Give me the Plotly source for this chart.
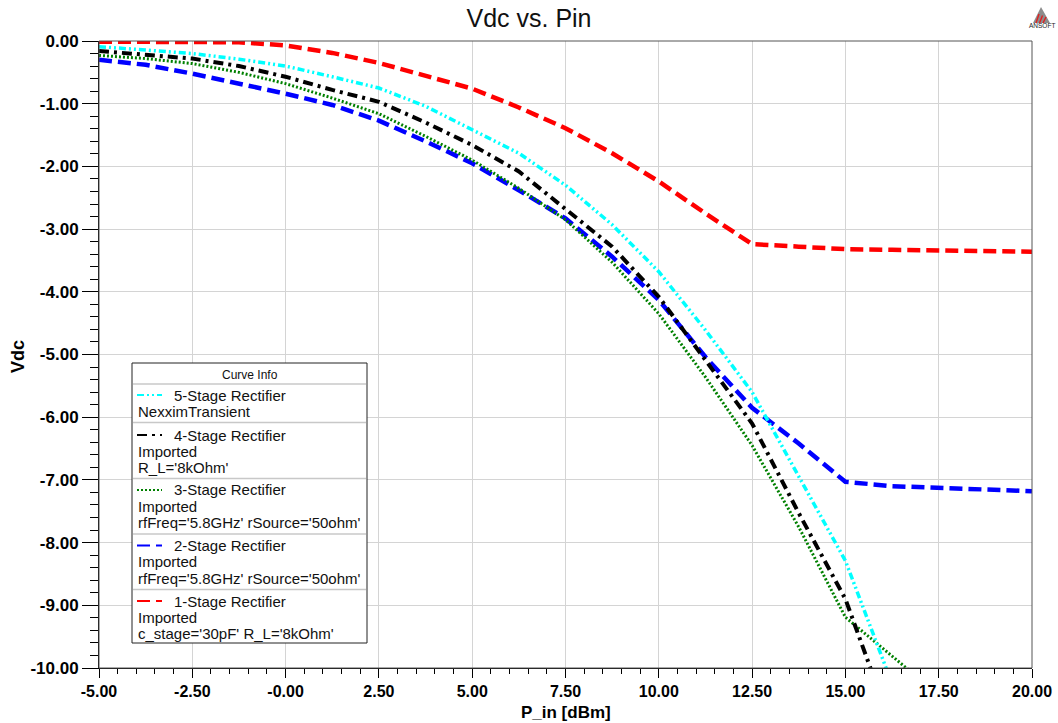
import plotly.graph_objects as go

# Input power sweep (dBm)
p_in = [-5.0, -3.75, -2.5, -1.25, 0.0, 1.25, 2.5, 3.75, 5.0, 6.25, 7.5, 8.75,
        10.0, 11.25, 12.5, 13.75, 15.0, 16.25, 17.5, 18.75, 20.0]

# Output DC voltage per rectifier (V)
vdc_5stage = [-0.09, -0.14, -0.20, -0.29, -0.40, -0.57, -0.75, -1.04, -1.42, -1.79, -2.30,
              -2.93, -3.68, -4.61, -5.60, -6.95, -8.29, -10.25]
vdc_4stage = [-0.16, -0.22, -0.28, -0.40, -0.57, -0.78, -0.97, -1.30, -1.66, -2.08, -2.69,
              -3.28, -4.08, -5.08, -6.10, -7.53, -8.90, -10.95]
vdc_3stage = [-0.23, -0.28, -0.36, -0.50, -0.68, -0.91, -1.16, -1.52, -1.90, -2.35, -2.85,
              -3.53, -4.35, -5.36, -6.45, -7.75, -9.19, -9.82, -10.43]
vdc_2stage = [-0.30, -0.38, -0.52, -0.68, -0.84, -1.02, -1.27, -1.60, -1.95, -2.38, -2.83,
              -3.44, -4.13, -5.04, -5.85, -6.42, -7.03, -7.10, -7.13, -7.16, -7.18]
vdc_1stage = [-0.01, -0.01, -0.01, -0.02, -0.07, -0.19, -0.35, -0.56, -0.76, -1.06, -1.39,
              -1.79, -2.24, -2.75, -3.24, -3.28, -3.32, -3.33, -3.34, -3.35, -3.36]

x_tick_vals = [-5, -2.5, 0, 2.5, 5, 7.5, 10, 12.5, 15, 17.5, 20]
x_tick_text = ["-5.00", "-2.50", "-0.00", "2.50", "5.00", "7.50", "10.00",
               "12.50", "15.00", "17.50", "20.00"]
y_tick_vals = [0, -1, -2, -3, -4, -5, -6, -7, -8, -9, -10]
y_tick_text = ["0.00", "-1.00", "-2.00", "-3.00", "-4.00", "-5.00", "-6.00",
               "-7.00", "-8.00", "-9.00", "-10.00"]

series = [
    ("5-Stage Rectifier", ["NexximTransient"], vdc_5stage,
     "#00FFFF", 3.5, "7px,3px,2px,3px,2px,3px"),
    ("4-Stage Rectifier", ["Imported", "R_L='8kOhm'"], vdc_4stage,
     "#000000", 4, "10px,5px,3px,5px"),
    ("3-Stage Rectifier", ["Imported", "rfFreq='5.8GHz' rSource='50ohm'"], vdc_3stage,
     "#008000", 3, "2px,2px"),
    ("2-Stage Rectifier", ["Imported", "rfFreq='5.8GHz' rSource='50ohm'"], vdc_2stage,
     "#0000FF", 4.5, "13px,6px"),
    ("1-Stage Rectifier", ["Imported", "c_stage='30pF' R_L='8kOhm'"], vdc_1stage,
     "#FF0000", 4.5, "13px,6px"),
]

W, H = 1058, 723
L, R, T, B = 99, 26, 41, 55
PW, PH = W - L - R, H - T - B
FONT = "Arial, Liberation Sans, sans-serif"


def px(xp):
    return (xp - L) / PW


def py(yp):
    return (H - B - yp) / PH


fig = go.Figure()

# draw in reverse so the 5-stage trace sits on top
for name, _, vals, color, width, dash in reversed(series):
    fig.add_trace(go.Scatter(
        x=p_in[:len(vals)], y=vals, mode="lines", name=name,
        line=dict(color=color, width=width, dash=dash),
        showlegend=False,
    ))

shapes = []
annotations = []

# plot frame (top/right in gray)
shapes.append(dict(type="rect", xref="paper", yref="paper", x0=0, x1=1, y0=0, y1=1,
                   line=dict(color="#555555", width=1), layer="above"))

# Curve info box
box_l, box_r, box_t, box_b = 132, 367, 363, 643
shapes.append(dict(type="rect", xref="paper", yref="paper",
                   x0=px(box_l), x1=px(box_r), y0=py(box_b), y1=py(box_t),
                   fillcolor="white", line=dict(color="#222222", width=1), layer="above"))
for sep in [384, 422.5, 478.5, 534, 589.5]:
    shapes.append(dict(type="line", xref="paper", yref="paper",
                       x0=px(box_l + 1), x1=px(box_r - 1), y0=py(sep), y1=py(sep),
                       line=dict(color="#C8C8C8", width=1.5), layer="above"))
annotations.append(dict(text="Curve Info", xref="paper", yref="paper",
                        x=px((box_l + box_r) / 2), y=py(374.5), showarrow=False,
                        xanchor="center", yanchor="middle",
                        font=dict(family=FONT, size=12, color="#111111")))

entry_tops = [395, 435, 490, 545.5, 601]
line_gap = 16.4
for (name, extra, _, color, width, dash), ey in zip(series, entry_tops):
    shapes.append(dict(type="line", xref="paper", yref="paper",
                       x0=px(137), x1=px(162), y0=py(ey), y1=py(ey),
                       line=dict(color=color, width=2, dash=dash), layer="above"))
    annotations.append(dict(text=name, xref="paper", yref="paper",
                            x=px(172), y=py(ey), showarrow=False,
                            xanchor="left", yanchor="middle",
                            font=dict(family=FONT, size=15, color="#111111")))
    for i, t in enumerate(extra):
        annotations.append(dict(text=t, xref="paper", yref="paper",
                                x=px(136), y=py(ey + line_gap * (i + 1)), showarrow=False,
                                xanchor="left", yanchor="middle",
                                font=dict(family=FONT, size=15, color="#111111")))

# vendor mark, top right
shapes.append(dict(type="path", xref="paper", yref="paper",
                   path="M {} {} L {} {} L {} {} Z".format(px(1041), py(7), px(1033), py(23),
                                                          px(1050), py(23)),
                   fillcolor="#8C8C8C", line=dict(width=0), layer="above"))
for k in range(3):
    x0 = 1036 + 3.5 * k
    shapes.append(dict(type="line", xref="paper", yref="paper",
                       x0=px(x0), x1=px(x0 + 3), y0=py(23), y1=py(14 + 1.5 * k),
                       line=dict(color="#E02020", width=1.4), layer="above"))
annotations.append(dict(text="ANSOFT", xref="paper", yref="paper",
                        x=px(1041.5), y=py(26), showarrow=False,
                        xanchor="center", yanchor="middle",
                        font=dict(family=FONT, size=6.5, color="#222222")))

# axis titles
annotations.append(dict(text="<b>Vdc</b>", xref="paper", yref="paper",
                        x=px(18), y=py(357), textangle=-90, showarrow=False,
                        xanchor="center", yanchor="middle",
                        font=dict(family=FONT, size=18, color="black")))
annotations.append(dict(text="<b>P_in [dBm]</b>", xref="paper", yref="paper",
                        x=0.5, y=py(712), showarrow=False,
                        xanchor="center", yanchor="middle",
                        font=dict(family=FONT, size=17, color="black")))

fig.update_layout(
    width=W, height=H,
    margin=dict(l=L, r=R, t=T, b=B, pad=0, autoexpand=False),
    paper_bgcolor="white", plot_bgcolor="white",
    title=dict(text="Vdc vs. Pin", x=529 / W, xref="container", xanchor="center",
               y=1 - 18 / H, yanchor="middle",
               font=dict(family=FONT, size=25, color="#111111")),
    shapes=shapes, annotations=annotations,
    showlegend=False,
)

fig.update_xaxes(
    range=[-5, 20], tickvals=x_tick_vals, ticktext=x_tick_text, automargin=False,
    showgrid=True, gridcolor="#D4D4D4", gridwidth=1, zeroline=False,
    showline=True, linecolor="black", linewidth=1,
    ticks="outside", ticklen=9, tickcolor="black", tickwidth=1,
    tickfont=dict(family=FONT, size=16, color="black", weight="bold"),
    minor=dict(dtick=0.5, tick0=-5, ticks="outside", ticklen=5, tickcolor="black",
               showgrid=False),
)
fig.update_yaxes(
    range=[-10, 0], tickvals=y_tick_vals, ticktext=y_tick_text, automargin=False,
    showgrid=True, gridcolor="#D4D4D4", gridwidth=1, zeroline=False,
    showline=True, linecolor="black", linewidth=1,
    ticks="outside", ticklen=16, tickcolor="black", tickwidth=1,
    tickfont=dict(family=FONT, size=17, color="black", weight="bold"),
    minor=dict(dtick=0.2, tick0=0, ticks="outside", ticklen=8, tickcolor="black",
               showgrid=False),
)

fig.write_html("out.html")
